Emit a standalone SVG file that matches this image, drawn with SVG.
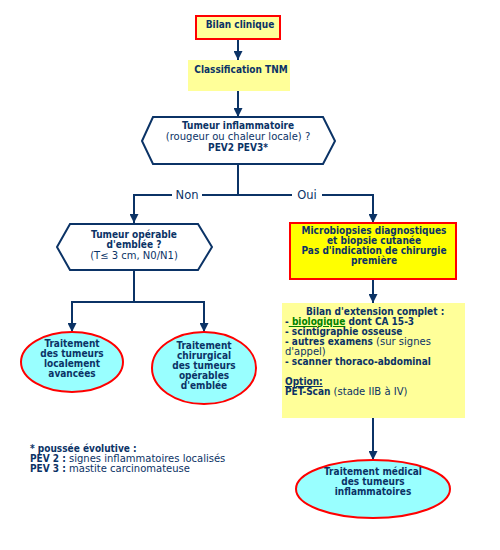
<svg xmlns="http://www.w3.org/2000/svg" width="500" height="550" viewBox="0 0 500 550">
<defs>
<marker id="ah" viewBox="0 0 10 10" refX="10" refY="5" markerWidth="4.5" markerHeight="4.5" orient="auto" markerUnits="strokeWidth">
<path d="M0,0 L10,5 L0,10 z" fill="#0b3366"/>
</marker>
</defs>
<style>
text{font-family:"DejaVu Sans",Verdana,sans-serif;font-size:10px;fill:#0b3366}
.b{font-weight:bold;font-family:"DejaVu Sans Condensed","DejaVu Sans",Verdana,sans-serif}
.c{text-anchor:middle}
.ln{fill:none;stroke:#0b3366;stroke-width:2}
.lab{fill:#fff}
.nl{font-size:11.5px}
</style>
<rect width="500" height="550" fill="#fff"/>
<g id="connectors">
<path class="ln" d="M238,40 V60" marker-end="url(#ah)"/>
<path class="ln" d="M238,91 V117" marker-end="url(#ah)"/>
<path class="ln" d="M238,164 V195"/>
<path class="ln" d="M238,195 H134 V223" marker-end="url(#ah)"/>
<path class="ln" d="M238,195 H373 V223" marker-end="url(#ah)"/>
<rect class="lab" x="172" y="187" width="30" height="15"/>
<rect class="lab" x="292" y="187" width="30" height="15"/>
<text x="187" y="199" class="c nl">Non</text>
<text x="307" y="199" class="c nl">Oui</text>
<path class="ln" d="M134,270 V302"/>
<path class="ln" d="M134,302 H72 V332" marker-end="url(#ah)"/>
<path class="ln" d="M134,302 H204 V332" marker-end="url(#ah)"/>
<path class="ln" d="M373,279 V303" marker-end="url(#ah)"/>
<path class="ln" d="M373,418 V460" marker-end="url(#ah)"/>
</g>
<g id="bilan-clinique">
<rect x="196" y="16" width="84" height="23" fill="#ffff99" stroke="#ff0000" stroke-width="2"/>
<text x="240" y="28" class="c b">Bilan clinique</text>
</g>
<g id="classification">
<rect x="188" y="60" width="102" height="31" fill="#ffff99"/>
<text x="241" y="73" class="c b">Classification TNM</text>
</g>
<g id="tumeur-inflammatoire">
<polygon points="142,141 153,117 323,117 335,141 323,164 153,164" fill="#fff" stroke="#0b3366" stroke-width="2"/>
<text x="238" y="129" class="c b">Tumeur inflammatoire</text>
<text x="238" y="140" class="c">(rougeur ou chaleur locale) ?</text>
<text x="238" y="151" class="c b">PEV2 PEV3*</text>
</g>
<g id="tumeur-operable">
<polygon points="57,247 70,224 198,224 212,247 198,270 70,270" fill="#fff" stroke="#0b3366" stroke-width="2"/>
<text x="134" y="238" class="c b">Tumeur opérable</text>
<text x="134" y="248" class="c b">d'emblée ?</text>
<text x="134" y="259" class="c">(T≤ 3 cm, N0/N1)</text>
</g>
<g id="microbiopsies">
<rect x="290" y="223" width="166" height="56" fill="#ffff00" stroke="#ff0000" stroke-width="2"/>
<text x="374" y="234" class="c b">Microbiopsies diagnostiques</text>
<text x="374" y="244" class="c b">et biopsie cutanée</text>
<text x="374" y="254" class="c b">Pas d'indication de chirurgie</text>
<text x="374" y="264" class="c b">première</text>
</g>
<g id="bilan-extension">
<rect x="282" y="303" width="183" height="115" fill="#ffff99"/>
<text x="306" y="315" class="b">Bilan d'extension complet :</text>
<text x="285" y="325" class="b">-<tspan fill="#008000" text-decoration="underline"> biologique</tspan> dont CA 15-3</text>
<text x="285" y="335" class="b">- scintigraphie osseuse</text>
<text x="285" y="345"><tspan class="b">- autres examens</tspan> (sur signes</text>
<text x="285" y="355">d'appel)</text>
<text x="285" y="365" class="b">- scanner thoraco-abdominal</text>
<text x="285" y="385" class="b" text-decoration="underline">Option:</text>
<text x="285" y="395"><tspan class="b">PET-Scan</tspan> (stade IIB à IV)</text>
</g>
<g id="traitement-localement">
<ellipse cx="72" cy="362" rx="51" ry="30" fill="#99ffff" stroke="#ff0000" stroke-width="2"/>
<text x="72" y="347" class="c b">Traitement</text>
<text x="72" y="357" class="c b">des tumeurs</text>
<text x="72" y="367" class="c b">localement</text>
<text x="72" y="377" class="c b">avancées</text>
</g>
<g id="traitement-chirurgical">
<ellipse cx="204" cy="368" rx="52" ry="36" fill="#99ffff" stroke="#ff0000" stroke-width="2"/>
<text x="204" y="349" class="c b">Traitement</text>
<text x="204" y="359" class="c b">chirurgical</text>
<text x="204" y="369" class="c b">des tumeurs</text>
<text x="204" y="379" class="c b">opérables</text>
<text x="204" y="389" class="c b">d'emblée</text>
</g>
<g id="traitement-medical">
<ellipse cx="373" cy="489" rx="77" ry="29" fill="#99ffff" stroke="#ff0000" stroke-width="2"/>
<text x="373" y="475" class="c b">Traitement médical</text>
<text x="373" y="485" class="c b">des tumeurs</text>
<text x="373" y="495" class="c b">inflammatoires</text>
</g>
<g id="footnote">
<text x="30" y="452" class="b">* poussée évolutive :</text>
<text x="30" y="462"><tspan class="b">PEV 2 :</tspan> signes inflammatoires localisés</text>
<text x="30" y="472"><tspan class="b">PEV 3 :</tspan> mastite carcinomateuse</text>
</g>
</svg>
